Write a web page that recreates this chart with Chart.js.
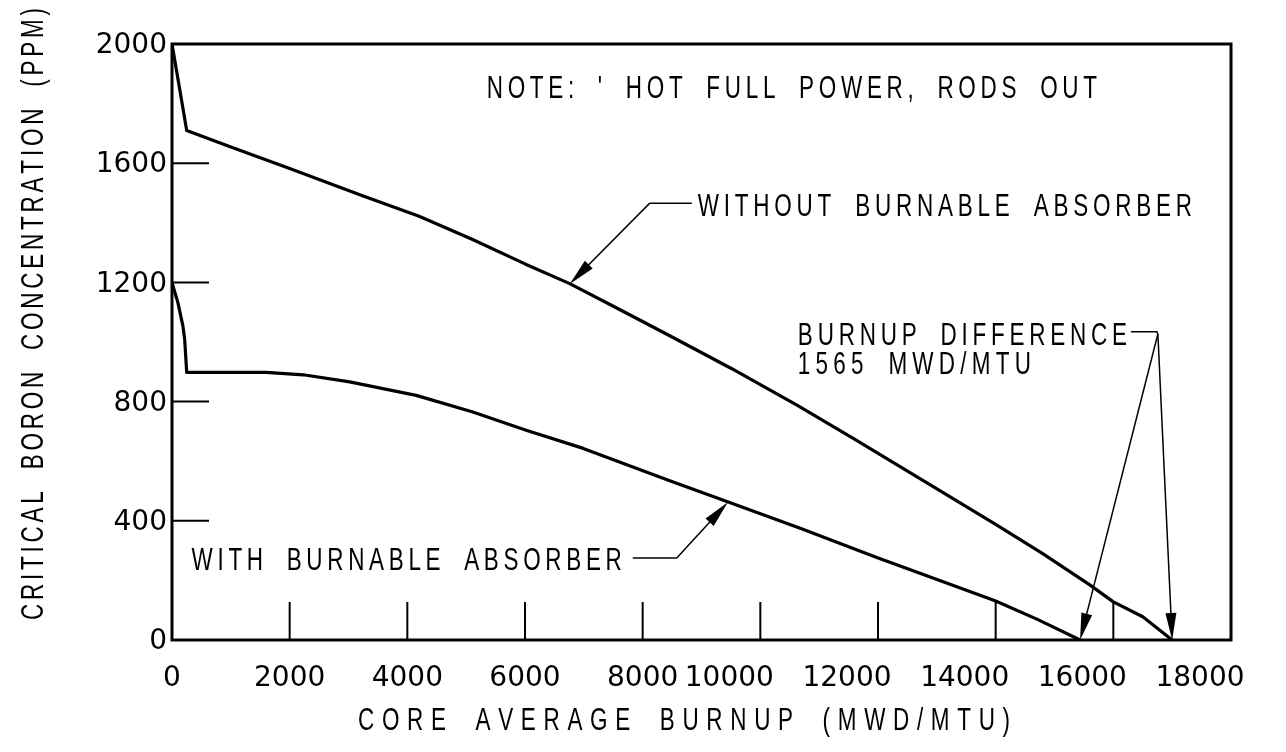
<!DOCTYPE html>
<html>
<head>
<meta charset="utf-8">
<title>Critical Boron Concentration vs Core Average Burnup</title>
<script src="https://cdn.jsdelivr.net/npm/chart.js"></script>
<style>
  body { margin: 0; background: #fff; }
  #chart { display: block; }
</style>
</head>
<body>
<canvas id="chart" width="1286" height="752"></canvas>
<script>
// burnup (MWD/MTU) vs critical boron (PPM)
const burnupNoBA = [0, 250, 1000, 2000, 3250, 4200, 5100, 6000, 6760, 7600, 8460, 9500, 10630, 11600, 12650, 14000, 14800, 15600, 16000, 16500, 17000];
const boronNoBA  = [2000, 1710, 1654, 1582, 1490, 1422, 1345, 1262, 1196, 1110, 1021, 912, 787, 674, 549, 388, 290, 185, 128, 78, 0];

const burnupBA = [0, 100, 185, 215, 250, 1600, 2230, 3020, 4150, 5100, 6020, 6990, 8460, 9420, 10700, 11980, 13990, 14700, 15435];
const boronBA  = [1200, 1132, 1054, 1010, 898, 898, 890, 866, 821, 766, 704, 643, 534, 466, 373, 277, 132, 70, 0];

const xTicks = [0, 2000, 4000, 6000, 8000, 10000, 12000, 14000, 16000, 18000];
const yTicks = [0, 400, 800, 1200, 1600, 2000];

const xTitle = 'CORE AVERAGE BURNUP (MWD/MTU)';
const yTitle = 'CRITICAL BORON CONCENTRATION (PPM)';
const noteText = "NOTE: ' HOT FULL POWER, RODS OUT";
const labelNoBA = 'WITHOUT BURNABLE ABSORBER';
const labelBA = 'WITH BURNABLE ABSORBER';
const diffLines = ['BURNUP DIFFERENCE', '1565 MWD/MTU'];

// narrow drafting lettering stretched from x0 to x1
function cadText(ctx, text, x0, x1, yc, cap) {
    const sx = 0.7;
    ctx.save();
    ctx.font = (cap / 0.716).toFixed(1) + 'px "Liberation Sans", Arial, sans-serif';
    ctx.textAlign = 'left';
    ctx.textBaseline = 'alphabetic';
    const chars = [...text];
    const widths = chars.map(c => c === ' ' ? cap * 0.62 : ctx.measureText(c).width * sx);
    const total = widths.reduce((a, b) => a + b, 0);
    const gap = (x1 - x0 - total) / (chars.length - 1);
    let x = x0;
    chars.forEach((c, i) => {
        ctx.save();
        ctx.translate(x, yc + cap / 2);
        ctx.scale(sx, 1);
        ctx.fillText(c, 0, 0);
        ctx.restore();
        x += widths[i] + gap;
    });
    ctx.restore();
}

// leader line ending in a long narrow filled arrowhead
function arrow(ctx, fx, fy, tx, ty) {
    const a = Math.atan2(ty - fy, tx - fx);
    const len = 27, half = 5.5;
    const c = Math.cos(a), s = Math.sin(a);
    ctx.beginPath();
    ctx.moveTo(fx, fy);
    ctx.lineTo(tx - len * c * 0.5, ty - len * s * 0.5);
    ctx.stroke();
    ctx.beginPath();
    ctx.moveTo(tx, ty);
    ctx.lineTo(tx - len * c + half * s, ty - len * s - half * c);
    ctx.lineTo(tx - len * c - half * s, ty - len * s + half * c);
    ctx.closePath();
    ctx.fill();
}

const decorations = {
    id: 'decorations',
    afterDraw(chart) {
        const ctx = chart.ctx;
        const xs = chart.scales.x, ys = chart.scales.y;
        const area = chart.chartArea;
        const X = v => xs.getPixelForValue(v);
        const Y = v => ys.getPixelForValue(v);

        ctx.save();
        ctx.strokeStyle = '#000';
        ctx.fillStyle = '#000';

        // frame
        ctx.lineWidth = 3;
        ctx.strokeRect(area.left, area.top, area.right - area.left, area.bottom - area.top);

        // inward tick marks
        ctx.lineWidth = 2;
        ctx.beginPath();
        xTicks.slice(1, -1).forEach(v => {
            ctx.moveTo(X(v), area.bottom);
            ctx.lineTo(X(v), area.bottom - 38);
        });
        yTicks.slice(1, -1).forEach(v => {
            ctx.moveTo(area.left, Y(v));
            ctx.lineTo(area.left + 37, Y(v));
        });
        ctx.stroke();

        // tick labels
        ctx.font = '28px "DejaVu Sans", sans-serif';
        ctx.textBaseline = 'middle';
        ctx.textAlign = 'center';
        xTicks.forEach(v => {
            const t = String(v);
            const shift = t.length > 4 ? -31 : 0;
            ctx.fillText(t, X(v) + shift, area.bottom + 39);
        });
        ctx.textAlign = 'right';
        yTicks.forEach(v => ctx.fillText(String(v), area.left - 5, Y(v) + 2));

        // axis titles
        cadText(ctx, xTitle, 358, 1010, 718, 23);
        ctx.save();
        ctx.translate(31, 0);
        ctx.rotate(-Math.PI / 2);
        cadText(ctx, yTitle, -620, -8, 0, 23);
        ctx.restore();

        // note
        cadText(ctx, noteText, X(5349), X(15722), Y(1856), 23);

        // without BA label and leader
        ctx.lineWidth = 1.5;
        cadText(ctx, labelNoBA, X(8937), X(17337), Y(1460), 23);
        ctx.beginPath();
        ctx.moveTo(X(8121), Y(1466));
        ctx.lineTo(X(8835), Y(1466));
        ctx.stroke();
        arrow(ctx, X(8121), Y(1466), X(6761), Y(1195));

        // with BA label and leader
        cadText(ctx, labelBA, X(333), X(7645), Y(275), 23);
        ctx.beginPath();
        ctx.moveTo(X(7832), Y(275));
        ctx.lineTo(X(8580), Y(275));
        ctx.stroke();
        arrow(ctx, X(8580), Y(275), X(9448), Y(462));

        // burnup difference label and leaders
        cadText(ctx, diffLines[0], X(10638), X(16232), Y(1030), 23);
        cadText(ctx, diffLines[1], X(10638), X(14600), Y(930), 23);
        ctx.beginPath();
        ctx.moveTo(X(16298), Y(1034));
        ctx.lineTo(X(16740), Y(1034));
        ctx.lineTo(X(16757), Y(1027));
        ctx.stroke();
        arrow(ctx, X(16757), Y(1027), X(burnupBA[burnupBA.length - 1]), Y(0));
        arrow(ctx, X(16757), Y(1027), X(burnupNoBA[burnupNoBA.length - 1]), Y(0));

        ctx.restore();
    }
};

const toPoints = (xs, ys) => xs.map((x, i) => ({ x: x, y: ys[i] }));

new Chart(document.getElementById('chart'), {
    type: 'line',
    data: {
        datasets: [{
            label: labelNoBA,
            data: toPoints(burnupNoBA, boronNoBA),
            borderColor: '#000',
            borderWidth: 3.2
        }, {
            label: labelBA,
            data: toPoints(burnupBA, boronBA),
            borderColor: '#000',
            borderWidth: 3.2
        }]
    },
    options: {
        responsive: false,
        animation: false,
        events: [],
        layout: {
            padding: { left: 172, right: 55, top: 44, bottom: 112 }
        },
        elements: {
            point: { radius: 0 },
            line: { tension: 0, borderJoinStyle: 'round' }
        },
        scales: {
            x: { type: 'linear', min: 0, max: 18000, display: false },
            y: { type: 'linear', min: 0, max: 2000, display: false }
        },
        plugins: {
            legend: { display: false },
            tooltip: { enabled: false }
        }
    },
    plugins: [decorations]
});
</script>
</body>
</html>
